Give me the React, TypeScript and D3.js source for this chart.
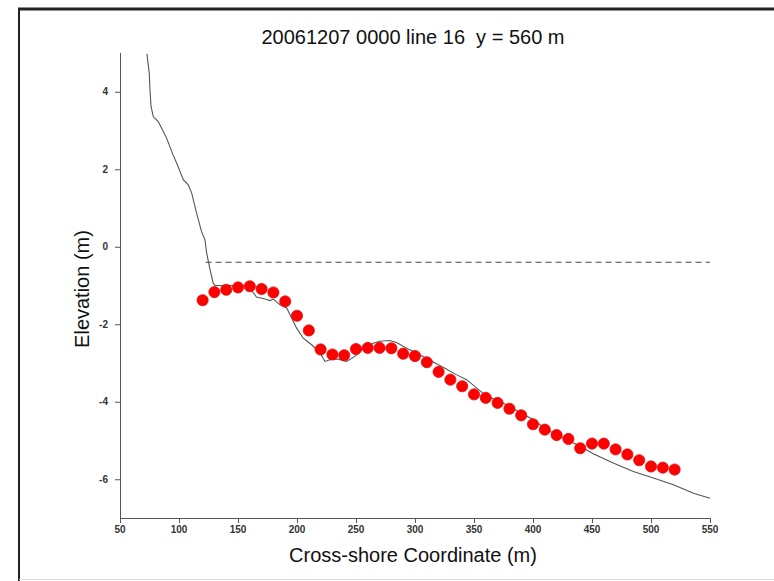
import React from "react";
import * as d3 from "d3";

const dotX = [120,130,140,150,160,170,180,190,200,210,220,230,240,250,260,270,280,290,300,310,320,330,340,350,360,370,380,390,400,410,420,430,440,450,460,470,480,490,500,510,520];
const dotY = [-1.38,-1.17,-1.11,-1.05,-1.02,-1.09,-1.18,-1.41,-1.78,-2.16,-2.65,-2.78,-2.8,-2.64,-2.61,-2.61,-2.62,-2.76,-2.82,-2.98,-3.23,-3.43,-3.6,-3.81,-3.9,-4.03,-4.18,-4.35,-4.58,-4.72,-4.86,-4.96,-5.2,-5.08,-5.08,-5.23,-5.36,-5.51,-5.67,-5.7,-5.75];

const profX = [72.9,73.2,74.8,75.4,76.3,78.2,82.4,86.6,89.4,95,99.2,103.6,107.8,110.7,114.9,119.1,122,123.4,126.3,129,130.5,157,161.5,165.7,172.9,177,180,185.6,191.3,195.4,199.7,205.3,212.4,219.5,223.7,229.4,235,242,249,256,264.6,270.3,278.8,284.4,292.9,304,315,325,335,343.8,360.7,372,400,411.6,428.5,440,451,468,485,502,519,536,550];
const profY = [4.98,4.87,4.48,4.05,3.62,3.36,3.23,2.98,2.81,2.37,2.07,1.73,1.6,1.39,0.87,0.39,0.18,-0.16,-0.59,-0.94,-1.0,-1.0,-1.13,-1.3,-1.35,-1.39,-1.35,-1.5,-1.58,-1.84,-2.1,-2.36,-2.53,-2.74,-2.96,-2.9,-2.9,-2.96,-2.83,-2.62,-2.49,-2.44,-2.42,-2.47,-2.62,-2.79,-2.97,-3.13,-3.3,-3.43,-3.86,-3.99,-4.46,-4.72,-4.98,-5.15,-5.34,-5.58,-5.8,-5.97,-6.14,-6.36,-6.49];

const waterLevel = -0.4;
const waterStart = 122.5;
const waterEnd = 550;

const xTicks = [50,100,150,200,250,300,350,400,450,500,550];
const yTicks = [-6,-4,-2,0,2,4];

const title = "20061207 0000 line 16  y = 560 m";
const xLabel = "Cross-shore Coordinate (m)";
const yLabel = "Elevation (m)";

export default function App() {
  const W = 774, H = 581;
  const x = d3.scaleLinear().domain([50, 550]).range([120, 710]);
  const y = d3.scaleLinear().domain([-7, 5]).range([518, 53]);
  const line = d3.line<number>().x((_, i) => x(profX[i])).y((d) => y(d));
  const axisColor = "#555";
  const font = "'Liberation Sans', Arial, sans-serif";
  return (
    <svg width={W} height={H} style={{ position: "absolute", left: 0, top: 0, background: "#fff" }}>
      <rect x={0} y={0} width={W} height={H} fill="#fff" />
      <line x1={18} x2={W} y1={9} y2={9} stroke="#222" strokeWidth={3} />
      <line x1={19} x2={19} y1={8} y2={H} stroke="#222" strokeWidth={2} />
      <line x1={19} x2={W} y1={579.5} y2={579.5} stroke="#ddd" strokeWidth={1} />
      <text x={413} y={44} textAnchor="middle" fontFamily={font} fontSize={20} fill="#111" style={{ whiteSpace: "pre" }}>{title}</text>
      {/* axes */}
      <line x1={x(50)} x2={x(550)} y1={518.5} y2={518.5} stroke={axisColor} strokeWidth={1} />
      <line x1={120.5} x2={120.5} y1={y(5)} y2={y(-7)} stroke={axisColor} strokeWidth={1} />
      {xTicks.map((t) => (
        <g key={"x" + t}>
          <line x1={x(t) + 0.5} x2={x(t) + 0.5} y1={518} y2={523} stroke={axisColor} />
          <text x={x(t)} y={533} textAnchor="middle" fontFamily={font} fontSize={10} fontWeight="bold" fill="#333">{t}</text>
        </g>
      ))}
      {yTicks.map((t) => (
        <g key={"y" + t}>
          <line x1={115} x2={120} y1={y(t) + 0.5} y2={y(t) + 0.5} stroke={axisColor} />
          <text x={108} y={y(t) + 3.5} textAnchor="end" fontFamily={font} fontSize={10} fontWeight="bold" fill="#333">{t}</text>
        </g>
      ))}
      <text x={413} y={562} textAnchor="middle" fontFamily={font} fontSize={20} fill="#111">{xLabel}</text>
      <text transform={`translate(89,${289}) rotate(-90)`} textAnchor="middle" fontFamily={font} fontSize={20} fill="#111">{yLabel}</text>
      {/* water level */}
      <line x1={x(waterStart)} x2={x(waterEnd)} y1={y(waterLevel)} y2={y(waterLevel)} stroke="#444" strokeWidth={1} strokeDasharray="6,4" />
      {/* profile */}
      <path d={line(profY) || ""} fill="none" stroke="#555" strokeWidth={1.1} />
      {/* dots */}
      {dotX.map((d, i) => (
        <circle key={i} cx={x(d)} cy={y(dotY[i])} r={5.6} fill="#ff0000" stroke="#e01010" strokeWidth={0.8} />
      ))}
    </svg>
  );
}
